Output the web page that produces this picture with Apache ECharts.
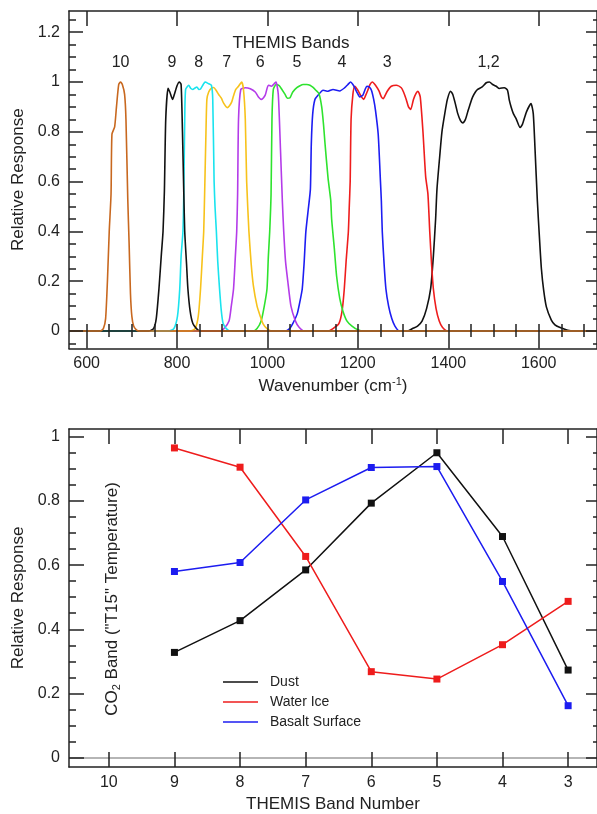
<!DOCTYPE html>
<html>
<head>
<meta charset="utf-8">
<title>THEMIS band response</title>
<script src="https://cdn.jsdelivr.net/npm/echarts@6/dist/echarts.min.js"></script>
<style>
  html, body { margin: 0; padding: 0; background: #fff; }
  #chart { width: 597px; height: 814px; }
</style>
</head>
<body>
<div id="chart"></div>
<script>
// upper panel: relative spectral response of each band, [wavenumber, response]
const bandNames = ['1,2', '3', '4', '5', '6', '7', '8', '9', '10'];
const band12 = [[1310,0],[1321,0.01],[1332,0.02],[1342,0.04],[1352,0.09],[1361,0.17],[1367,0.3],[1372,0.45],[1375,0.57],[1381,0.7],[1386,0.8],[1392,0.87],[1398,0.93],[1405,0.963],[1410,0.95],[1416,0.91],[1421,0.873],[1427,0.845],[1432,0.836],[1438,0.85],[1443,0.88],[1449,0.915],[1454,0.94],[1460,0.96],[1465,0.97],[1475,0.98],[1484,0.997],[1491,1.0],[1498,0.99],[1506,0.983],[1513,0.974],[1524,0.977],[1531,0.967],[1535,0.927],[1539,0.9],[1544,0.873],[1550,0.853],[1559,0.817],[1564,0.83],[1573,0.88],[1583,0.913],[1588,0.873],[1592,0.727],[1597,0.525],[1602,0.365],[1606,0.25],[1611,0.164],[1617,0.097],[1628,0.044],[1636,0.025],[1646,0.015],[1664,0.003],[1678,0]];
const band3 = [[1134,0],[1145,0.01],[1158,0.03],[1165,0.08],[1170,0.17],[1174,0.28],[1179,0.4],[1181,0.5],[1183,0.6],[1185,0.85],[1189,0.95],[1193,0.983],[1200,0.967],[1208,0.94],[1213,0.93],[1217,0.945],[1222,0.967],[1227,0.99],[1232,1.0],[1239,0.987],[1247,0.963],[1252,0.94],[1256,0.933],[1260,0.945],[1265,0.963],[1274,0.983],[1285,0.987],[1296,0.977],[1301,0.96],[1307,0.93],[1312,0.9],[1317,0.89],[1323,0.93],[1329,0.955],[1333,0.963],[1338,0.94],[1344,0.8],[1350,0.62],[1355,0.55],[1359,0.4],[1363,0.27],[1367,0.17],[1373,0.09],[1380,0.04],[1387,0.015],[1398,0]];
const band4 = [[1039,0],[1049,0.01],[1056,0.03],[1066,0.07],[1072,0.12],[1077,0.17],[1081,0.27],[1085,0.4],[1091,0.5],[1095,0.57],[1097,0.75],[1100,0.87],[1105,0.93],[1112,0.947],[1123,0.967],[1134,0.963],[1145,0.97],[1160,0.964],[1171,0.977],[1178,0.99],[1184,1.0],[1189,0.99],[1193,0.977],[1199,0.955],[1204,0.94],[1211,0.947],[1216,0.97],[1220,0.983],[1225,0.98],[1230,0.967],[1235,0.93],[1239,0.886],[1245,0.79],[1250,0.6],[1252,0.52],[1254,0.4],[1258,0.27],[1262,0.17],[1268,0.1],[1275,0.05],[1282,0.02],[1292,0]];
const band5 = [[968,0],[977,0.01],[986,0.04],[993,0.1],[999,0.17],[1002,0.3],[1005,0.4],[1008,0.55],[1010,0.85],[1013,0.97],[1019,0.99],[1026,0.985],[1032,0.97],[1039,0.95],[1044,0.935],[1050,0.937],[1056,0.96],[1065,0.977],[1072,0.985],[1079,0.99],[1087,0.99],[1094,0.987],[1101,0.978],[1107,0.967],[1114,0.953],[1120,0.9],[1124,0.83],[1127,0.76],[1134,0.615],[1140,0.525],[1142,0.45],[1148,0.33],[1153,0.22],[1160,0.13],[1167,0.08],[1176,0.04],[1187,0.02],[1200,0.005],[1213,0]];
const band6 = [[895,0],[904,0.01],[915,0.04],[920,0.1],[925,0.17],[929,0.3],[932,0.4],[934,0.55],[936,0.85],[941,0.97],[951,0.977],[962,0.973],[973,0.96],[980,0.94],[987,0.93],[995,0.947],[1002,0.987],[1009,0.983],[1015,0.993],[1019,1.0],[1024,0.95],[1029,0.72],[1033,0.52],[1036,0.4],[1040,0.28],[1045,0.2],[1052,0.1],[1062,0.04],[1070,0.015],[1081,0]];
const band7 = [[829,0],[840,0.01],[847,0.06],[852,0.17],[856,0.3],[859,0.4],[861,0.55],[864,0.8],[866,0.93],[870,0.96],[876,0.975],[881,0.978],[887,0.965],[892,0.95],[898,0.935],[903,0.915],[911,0.897],[916,0.905],[921,0.92],[925,0.945],[930,0.97],[936,0.983],[943,1.0],[947,0.97],[951,0.85],[954,0.6],[959,0.4],[964,0.27],[969,0.18],[977,0.1],[984,0.06],[990,0.03],[999,0.01],[1010,0]];
const band8 = [[781,0],[793,0.01],[801,0.06],[806,0.17],[809,0.3],[813,0.4],[815,0.56],[817,0.85],[819,0.97],[826,0.987],[830,0.975],[835,0.97],[839,0.975],[844,0.98],[848,0.97],[852,0.972],[858,0.99],[862,1.0],[870,0.993],[876,0.987],[879,0.93],[882,0.6],[884,0.5],[887,0.4],[890,0.28],[894,0.17],[898,0.08],[902,0.03],[909,0.01],[918,0]];
const band9 = [[737,0],[748,0.01],[754,0.05],[760,0.17],[765,0.3],[769,0.4],[772,0.56],[775,0.85],[780,0.975],[784,0.96],[790,0.93],[794,0.95],[800,0.985],[805,1.0],[809,0.99],[812,0.8],[815,0.55],[817,0.4],[821,0.27],[824,0.17],[829,0.08],[835,0.03],[843,0.01],[851,0]];
const band10 = [[630,0],[637,0.01],[642,0.05],[646,0.2],[650,0.4],[654,0.55],[656,0.79],[662,0.82],[666,0.9],[671,0.99],[675,1.0],[679,0.99],[684,0.95],[687,0.85],[691,0.53],[694,0.35],[697,0.15],[700,0.06],[704,0.02],[710,0.005],[716,0]];
const bandCurves = [band12, band3, band4, band5, band6, band7, band8, band9, band10];
const bandLabelX = [1489, 1265, 1165, 1065, 984, 910, 848, 789, 675];
const wavenumberTicks = [600, 800, 1000, 1200, 1400, 1600];
const responseTicks = [0, 0.2, 0.4, 0.6, 0.8, 1, 1.2];

// lower panel: CO2 band response per THEMIS band
const bandNumbers = [9, 8, 7, 6, 5, 4, 3];
const bandNumberTicks = [10, 9, 8, 7, 6, 5, 4, 3];
const dust = [0.328, 0.427, 0.585, 0.793, 0.950, 0.689, 0.273];
const waterIce = [0.965, 0.905, 0.627, 0.268, 0.245, 0.352, 0.487];
const basalt = [0.580, 0.608, 0.803, 0.904, 0.907, 0.549, 0.162];
const lowerTicks = [0, 0.2, 0.4, 0.6, 0.8, 1];

const INK = '#222';
const FONT = '"Liberation Sans", Arial, sans-serif';
const bandColors = ['#111', '#ee1d1d', '#1d1df2', '#2ee32e', '#b43be9', '#f7c21b', '#1ae3ee', '#111', '#c8681f'];

const X_MIN = 561, X_MAX = 1729;
const Y_MIN = -0.07, Y_MAX = 1.285;
const B_MIN = 2.56, B_MAX = 10.607;
const L_MIN = -0.029, L_MAX = 1.024;

function steps(from, to, step) {
  const out = [];
  for (let v = from; v <= to + 1e-9; v += step) out.push(Math.round(v * 1000) / 1000);
  return out;
}

const axisLine = { show: true, onZero: false, lineStyle: { color: INK, width: 1.5 } };

function tickAxis(grid, pos, min, max, values, len, opts) {
  return Object.assign({
    type: 'value', gridIndex: grid, position: pos, min: min, max: max,
    axisLine: { show: false },
    axisTick: { show: true, inside: true, length: len, customValues: values, lineStyle: { color: INK, width: 1.5 } },
    axisLabel: { show: false },
    splitLine: { show: false },
    z: 5
  }, opts || {});
}

function labels(values, margin) {
  return {
    show: true, customValues: values, margin: margin, color: INK, fontSize: 16, fontFamily: FONT,
    formatter: function(v) { return String(v); }
  };
}

const nameStyle = { color: INK, fontSize: 17, fontFamily: FONT };

const chart = echarts.init(document.getElementById('chart'));

const bandSeries = bandCurves.map(function(curve, i) {
  return {
    name: 'Band ' + bandNames[i],
    type: 'line',
    xAxisIndex: 0,
    yAxisIndex: 0,
    data: [[X_MIN, 0]].concat(curve, [[X_MAX, 0]]),
    showSymbol: false,
    smooth: 0.2,
    silent: true,
    lineStyle: { color: bandColors[i], width: 1.6 },
    itemStyle: { color: bandColors[i] }
  };
});

const labelSeries = {
  type: 'scatter',
  xAxisIndex: 0,
  yAxisIndex: 0,
  symbolSize: 1,
  silent: true,
  itemStyle: { color: 'rgba(0,0,0,0)', opacity: 1 },
  label: { show: true, position: 'inside', formatter: function(p) { return p.name; }, color: INK, fontSize: 16, fontFamily: FONT },
  data: bandNames.map(function(n, i) {
    return { name: n, value: [bandLabelX[i], 1.078] };
  }).concat([{ name: 'THEMIS Bands', value: [1052, 1.156], label: { fontSize: 17 } }])
};

const lowerSeries = [
  ['Dust', dust, '#111'],
  ['Water Ice', waterIce, '#ee1c1c'],
  ['Basalt Surface', basalt, '#1c1cf0']
].map(function(s) {
  return {
    name: s[0],
    type: 'line',
    xAxisIndex: 4,
    yAxisIndex: 4,
    data: bandNumbers.map(function(b, i) { return [b, s[1][i]]; }),
    symbol: 'rect',
    symbolSize: 7,
    silent: true,
    lineStyle: { color: s[2], width: 1.5 },
    itemStyle: { color: s[2] }
  };
});
lowerSeries[0].markLine = {
  silent: true,
  symbol: 'none',
  label: { show: false },
  lineStyle: { color: '#b5b5b5', width: 2, type: 'solid' },
  data: [{ yAxis: 0 }]
};

const option = {
  animation: false,
  backgroundColor: '#fff',
  grid: [
    { left: 69, top: 11, width: 529, height: 337.5 },
    { left: 69, top: 429, width: 529, height: 338.3 }
  ],
  xAxis: [
    tickAxis(0, 'bottom', X_MIN, X_MAX, wavenumberTicks, 14, {
      axisLine: axisLine,
      axisLabel: labels(wavenumberTicks, 7),
      name: '{a|Wavenumber (cm}{s|-1}{a|)}',
      nameLocation: 'middle',
      nameGap: 28,
      nameTextStyle: {
        rich: {
          a: { color: INK, fontSize: 17, fontFamily: FONT, lineHeight: 20 },
          s: { color: INK, fontSize: 11, fontFamily: FONT, lineHeight: 11, verticalAlign: 'top' }
        }
      }
    }),
    tickAxis(0, 'bottom', X_MIN, X_MAX, steps(600, 1700, 50), 7),
    tickAxis(0, 'top', X_MIN, X_MAX, wavenumberTicks, 15, { axisLine: axisLine }),
    tickAxis(0, 'top', X_MIN, X_MAX, steps(600, 1700, 50), 6),
    tickAxis(1, 'bottom', B_MIN, B_MAX, bandNumberTicks, 15, {
      inverse: true,
      axisLine: axisLine,
      axisLabel: labels(bandNumberTicks, 8),
      name: 'THEMIS Band Number',
      nameLocation: 'middle',
      nameGap: 29,
      nameTextStyle: nameStyle
    }),
    tickAxis(1, 'top', B_MIN, B_MAX, bandNumberTicks, 15, { inverse: true, axisLine: axisLine })
  ],
  yAxis: [
    tickAxis(0, 'left', Y_MIN, Y_MAX, responseTicks, 14, {
      axisLine: axisLine,
      axisLabel: labels(responseTicks, 9),
      name: 'Relative Response',
      nameLocation: 'middle',
      nameGap: 41,
      nameTextStyle: nameStyle
    }),
    tickAxis(0, 'left', Y_MIN, Y_MAX, steps(-0.05, 1.25, 0.05), 7),
    tickAxis(0, 'right', Y_MIN, Y_MAX, responseTicks, 11, { axisLine: axisLine }),
    tickAxis(0, 'right', Y_MIN, Y_MAX, steps(-0.05, 1.25, 0.05), 4),
    tickAxis(1, 'left', L_MIN, L_MAX, lowerTicks, 15, {
      axisLine: axisLine,
      axisLabel: labels(lowerTicks, 9),
      name: 'Relative Response',
      nameLocation: 'middle',
      nameGap: 41,
      nameTextStyle: nameStyle
    }),
    tickAxis(1, 'left', L_MIN, L_MAX, steps(0, 1, 0.05), 7),
    tickAxis(1, 'right', L_MIN, L_MAX, lowerTicks, 11, { axisLine: axisLine }),
    tickAxis(1, 'right', L_MIN, L_MAX, steps(0, 1, 0.05), 4)
  ],
  legend: {
    data: ['Dust', 'Water Ice', 'Basalt Surface'],
    orient: 'vertical',
    left: 218,
    top: 670,
    icon: 'rect',
    itemWidth: 35,
    itemHeight: 1.5,
    itemGap: 6,
    selectedMode: false,
    textStyle: { color: INK, fontSize: 14, fontFamily: FONT, padding: [0, 0, 0, 7] }
  },
  graphic: [{
    type: 'text',
    x: 112,
    y: 599,
    rotation: Math.PI / 2,
    style: {
      text: '{a|CO}{s|2}{a| Band ("T15" Temperature)}',
      align: 'center',
      verticalAlign: 'middle',
      rich: {
        a: { fill: INK, fontSize: 17, fontFamily: FONT, lineHeight: 20 },
        s: { fill: INK, fontSize: 11, fontFamily: FONT, lineHeight: 11, verticalAlign: 'bottom' }
      }
    }
  }],
  series: bandSeries.concat([labelSeries], lowerSeries)
};

chart.setOption(option);

window.onresize = function() {
  chart.resize();
};
</script>
</body>
</html>
